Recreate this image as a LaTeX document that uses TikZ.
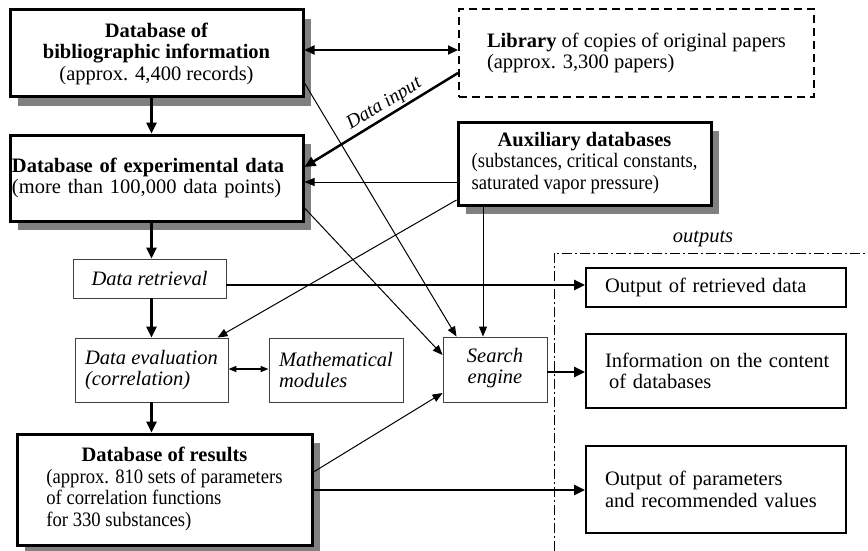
\documentclass[tikz,border=0pt]{standalone}
\usepackage{fontspec}
\setmainfont{Liberation Serif}
\newfontfamily\condfont[FakeStretch=0.91]{Liberation Serif}
\usetikzlibrary{arrows.meta,shadows,calc}
\begin{document}
\begin{tikzpicture}[x=1pt,y=-1pt,
  every node/.style={font=\fontsize{20.5}{21.5}\selectfont, inner sep=0pt},
  mainbox/.style={draw, line width=3pt, fill=white,
    drop shadow={shadow xshift=8pt, shadow yshift=-9pt, fill=black!50, opacity=1}},
  thinbox/.style={draw=black!75, line width=0.9pt, fill=white},
  outbox/.style={draw, line width=2pt, fill=white, text width=222pt, inner xsep=19pt, align=left},
  libbox/.style={draw, line width=2pt, dash pattern=on 8pt off 5pt, align=left},
  thk/.style={line width=2.5pt, -{Triangle[length=11pt,width=10pt]}},
  thn/.style={line width=1pt, -{Triangle[length=10pt,width=8pt]}},
  dblarrow/.style={line width=2pt, {Triangle[length=10pt,width=9pt]}-{Triangle[length=10pt,width=9pt]}},
  smalldbl/.style={line width=1.6pt, {Triangle[length=8pt,width=6pt]}-{Triangle[length=8pt,width=6pt]}},
  framestyle/.style={line width=1pt, dash pattern=on 10pt off 3pt on 2pt off 3pt}]
\useasboundingbox (0,0) rectangle (868,551);

% main boxes
\node[mainbox, minimum width=293pt, minimum height=87pt, align=center] (b1) at (156.5,53.5)
  {\textbf{Database of}\\\textbf{bibliographic information}\\(approx. 4,400 records)};
\node[libbox, minimum width=355pt, minimum height=88pt] (lib) at (636.5,53)
  {\textbf{Library} of copies of original papers\\(approx. 3,300 papers)};
\node[mainbox, minimum width=293pt, minimum height=86pt, text width=289pt, inner xsep=2pt, align=left] (b2) at (156.5,178)
  {\textbf{Database of experimental data}\\(more than 100,000 data points)};
\node[mainbox, minimum width=253pt, minimum height=83pt] (aux) at (584.5,163.5)
  {\begin{tabular}{@{}l@{}}\multicolumn{1}{@{}c@{}}{\textbf{Auxiliary databases}}\\{\condfont (substances, critical constants,}\\{\condfont saturated vapor pressure)}\end{tabular}};

% processing boxes
\node[thinbox, minimum width=153pt, minimum height=39pt] (ret) at (149.5,278.5) {\itshape Data retrieval};
\node[thinbox, minimum width=153pt, minimum height=64pt, align=left] (eval) at (151.5,370)
  {\itshape Data evaluation\\\itshape (correlation)};
\node[thinbox, minimum width=134pt, minimum height=64pt, align=left] (math) at (336,370)
  {\itshape Mathematical\\\itshape modules};
\node[thinbox, minimum width=104pt, minimum height=65pt, align=center, text depth=7pt] (se) at (495,369.5)
  {\itshape Search\\\itshape engine};
\node[mainbox, minimum width=295pt, minimum height=111pt] (res) at (164.5,489.5)
  {\begin{tabular}{@{}l@{}}\multicolumn{1}{@{}c@{}}{\textbf{Database of results}}\\{\condfont (approx. 810 sets of parameters}\\{\condfont of correlation functions}\\{\condfont for 330 substances)}\end{tabular}};

% outputs
\node (outlbl) at (703,239) {\itshape outputs};
\coordinate (fA) at (554,551);
\coordinate (fB) at (554,253);
\coordinate (fC) at (868,253);
\draw[framestyle] (fA) -- (fB) -- (fC);
\node[outbox, minimum height=39pt] (o1) at (716,287.5) {Output of retrieved data};
\node[outbox, minimum height=74pt] (o2) at (716,371) {\mbox{Information on the content}\\\hspace*{4pt}of databases};
\node[outbox, minimum height=87pt] (o3) at (716,489.5) {Output of parameters\\and recommended values};

% connectors
\draw[dblarrow] (b1.east |- 0,50) -- (lib.west |- 0,50);
\draw[thk] (b1.south -| eval.north) -- (b2.north -| eval.north);
\draw[thk] (lib.west |- 0,73) -- node[sloped, above, pos=0.44, inner sep=2pt, font=\fontsize{19.5}{21}\selectfont] {\itshape Data input} (b2.east |- 0,167);
\draw[thn] (aux.west |- 0,182) -- (b2.east |- 0,182);
\draw[thn] (b1.east |- 0,83) -- ($(se.north west)+(14,0)$);
\draw[thn] (b2.east |- 0,208) -- (se.west |- 0,355);
\draw[thn] (aux.west |- 0,200) -- ($(eval.north east)+(-11,0)$);
\draw[thn] (aux.south -| 483,0) -- (se.north -| 483,0);
\draw[thk] (b2.south -| eval.north) -- (ret.north -| eval.north);
\draw[thk] (ret.east |- 0,285) -- (o1.west |- 0,285);
\draw[thk] (ret.south -| eval.north) -- (eval.north);
\draw[smalldbl] (eval.east |- 0,369) -- (math.west |- 0,369);
\draw[thk] (eval.south) -- (res.north -| eval.south);
\draw[thk] (se.east |- 0,372) -- (o2.west |- 0,372);
\draw[thn] (res.east |- 0,472) -- (se.west |- 0,393);
\draw[thk] (res.east |- 0,490) -- (o3.west |- 0,490);
\end{tikzpicture}
\end{document}
